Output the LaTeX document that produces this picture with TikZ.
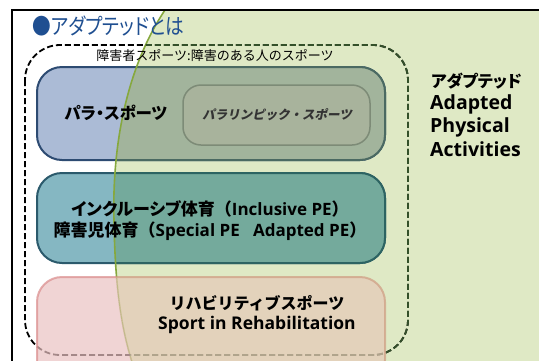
\documentclass[tikz,border=0pt]{standalone}
\usepackage{fontspec}
\newfontfamily\jp{Noto Sans CJK JP}[RawFeature=+palt]
\newfontfamily\jpt{Noto Sans CJK JP}[RawFeature=+palt, FakeStretch=0.85]
\newfontfamily\jpn{Noto Sans CJK JP}
\newfontfamily\jpsl{Noto Sans CJK JP}[FakeSlant=0.2]
\newfontfamily\lat{Open Sans}
\definecolor{greenbg}{HTML}{DFE9C5}
\definecolor{greenline}{HTML}{86A83E}
\definecolor{blueout}{HTML}{ABBBD6}
\definecolor{bluelineout}{HTML}{2D4B72}
\definecolor{bluein}{HTML}{A2B49C}
\definecolor{bluelinein}{HTML}{4B6A62}
\definecolor{tealout}{HTML}{85B7C2}
\definecolor{teallineout}{HTML}{2B5A6C}
\definecolor{tealin}{HTML}{74AA9C}
\definecolor{teallinein}{HTML}{2D6462}
\definecolor{parafill}{HTML}{A8B39C}
\definecolor{paraline}{HTML}{7D8B77}
\definecolor{pinkout}{HTML}{EAC2C2}
\definecolor{pinklineout}{HTML}{DA8C8C}
\definecolor{pinkin}{HTML}{E6C9B7}
\definecolor{pinklinein}{HTML}{CF9C82}
\definecolor{titleblue}{HTML}{1F4F91}
\definecolor{dashin}{HTML}{34502A}
\definecolor{paratext}{HTML}{333333}
\tikzset{
  greenregion/.style={insert path={(165,10) .. controls (125,70) and (112,150) .. (114,220) .. controls (115,290) and (122,330) .. (132,362) -- (545,362) -- (545,10) -- cycle}},
  leftregion/.style={insert path={(-5,-5) -- (545,-5) -- (545,10) -- (165,10) .. controls (125,70) and (112,150) .. (114,220) .. controls (115,290) and (122,330) .. (132,362) -- (-5,362) -- cycle}},
  boxbase/.style={line width=2pt, rounded corners=25pt},
  blueboxout/.style={boxbase, fill=blueout, draw=bluelineout},
  blueboxin/.style={boxbase, fill=bluein, draw=bluelinein},
  tealboxout/.style={boxbase, fill=tealout, draw=teallineout},
  tealboxin/.style={boxbase, fill=tealin, draw=teallinein},
  pinkboxout/.style={boxbase, fill=pinkout, draw=pinklineout, opacity=0.7},
  pinkboxin/.style={boxbase, fill=pinkin, draw=pinklinein, opacity=0.7},
  parabox/.style={line width=1.5pt, rounded corners=18pt, fill=parafill, draw=paraline},
  dashframe/.style={line width=1.8pt, dash pattern=on 6pt off 3pt, rounded corners=35pt},
  txt/.style={inner sep=0pt, text=black},
}
\begin{document}
\begin{tikzpicture}[x=1pt,y=-1pt]
\useasboundingbox (0,0) rectangle (539,360);
\clip (0,0) rectangle (539,360);
\fill[white] (0,0) rectangle (539,360);
% green region
\fill[greenbg, greenregion];
% blue and teal boxes
\draw[blueboxout] (37,67) rectangle (385,160);
\draw[tealboxout] (37,173) rectangle (385,263);
\begin{scope}
  \clip[greenregion];
  \draw[blueboxin] (37,67) rectangle (385,160);
  \draw[tealboxin] (37,173) rectangle (385,263);
\end{scope}
\draw[parabox] (183,85) rectangle (370,145);
% green boundary
\draw[greenline, line width=1.6pt] (165,10) .. controls (125,70) and (112,150) .. (114,220) .. controls (115,290) and (122,330) .. (132,362);
% dashed frame
\draw[dashframe, black] (25,45) rectangle (408,355);
\begin{scope}
  \clip[greenregion];
  \draw[dashframe, dashin] (25,45) rectangle (408,355);
\end{scope}
% pink box
\begin{scope}
  \clip[leftregion];
  \draw[pinkboxout] (37,277) rectangle (385,385);
\end{scope}
\begin{scope}
  \clip[greenregion];
  \draw[pinkboxin] (37,277) rectangle (385,385);
\end{scope}
% outer frame
\draw[black, line width=2pt] (12,362) -- (12,10) -- (545,10);
% texts
\node[txt, anchor=west, text=titleblue, font=\jpt\fontsize{22}{22}\selectfont] (title) at (32,26) {●アダプテッドとは};
\node[txt, font=\jpn\fontsize{13}{13}\selectfont] (sub) at (215,55) {障害者スポーツ:障害のある人のスポーツ};
\node[txt, font=\jp\bfseries\fontsize{16.5}{16.5}\selectfont] (para) at (116,113) {パラ・スポーツ};
\node[txt, text=paratext, font=\jpsl\bfseries\fontsize{12.5}{12.5}\selectfont] (paralym) at (277,115) {パラリンピック・スポーツ};
\node[txt, font=\bfseries\fontsize{17}{17}\selectfont] (incl) at (210,209) {{\jp インクルーシブ}{\jpn 体育（}{\lat Inclusive PE}{\jpn ）}};
\node[txt, font=\bfseries\fontsize{17}{17}\selectfont] (spec) at (210,231) {{\jpn 障害児体育（}{\lat Special PE\ \ \ Adapted PE}{\jpn ）}};
\node[txt, font=\jpn\bfseries\fontsize{16}{16}\selectfont] (reha) at (257,303) {リハビリティブスポーツ};
\node[txt, font=\lat\bfseries\fontsize{17.5}{17.5}\selectfont] (rehae) at (257,325) {Sport in Rehabilitation};
\node[txt, anchor=west, font=\jp\bfseries\fontsize{16.5}{16.5}\selectfont] (apa) at (431,81) {アダプテッド};
\node[txt, anchor=west, font=\lat\bfseries\fontsize{19.5}{19.5}\selectfont] (apb) at (430,104) {Adapted};
\node[txt, anchor=west, font=\lat\bfseries\fontsize{19.5}{19.5}\selectfont] (apc) at (430,127) {Physical};
\node[txt, anchor=west, font=\lat\bfseries\fontsize{19.5}{19.5}\selectfont] (apd) at (430,149) {Activities};
\end{tikzpicture}
\end{document}
